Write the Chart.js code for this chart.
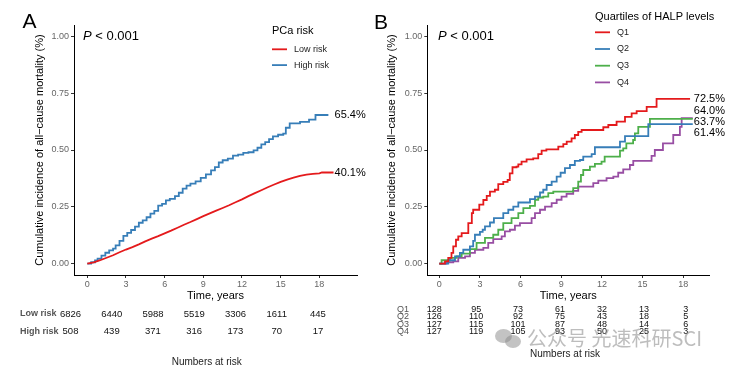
<!DOCTYPE html>
<html>
<head>
<meta charset="utf-8">
<script src="https://cdn.jsdelivr.net/npm/chart.js@4.4.1/dist/chart.umd.min.js"></script>
<style>
  html, body { margin: 0; padding: 0; background: #fff; }
  #wrap { position: relative; width: 748px; height: 369px; overflow: hidden; }
  #cA { position: absolute; left: 0; top: 0; }
  #cB { position: absolute; left: 370px; top: 0; }
  #wm { position: absolute; left: 527px; top: 327px; font: 20px 'Noto Sans CJK SC', sans-serif;
        line-height: 22px; color: rgba(135,135,135,0.55); white-space: nowrap; }
  .bub { position: absolute; background: rgba(135,135,135,0.5); border-radius: 50%; }
</style>
</head>
<body>
<div id="wrap">
  <canvas id="cA" width="370" height="369"></canvas>
  <canvas id="cB" width="378" height="369"></canvas>
  <div class="bub" style="left:495px;top:329px;width:17px;height:14px;"></div>
  <div class="bub" style="left:505px;top:335px;width:16px;height:13px;"></div>
  <div id="wm">公众号 光速科研SCI</div>
</div>
<script>
// ---- data ----
const X_TICKS = [0, 3, 6, 9, 12, 15, 18];
const Y_TICKS = [0, 0.25, 0.5, 0.75, 1];
const RISK_T = [0, 3, 6, 9, 12, 15, 18];

// Panel A: PCa risk
const A_LOW_T = [0, 0.5, 1, 1.5, 2, 2.5, 3, 3.5, 4, 4.5, 5, 5.5, 6, 6.5, 7, 7.5, 8, 8.5, 9, 9.5, 10, 10.5, 11, 11.5, 12, 12.5, 13, 13.5, 14, 14.5, 15, 15.5, 16, 16.5, 17, 17.5, 18, 18.2, 19.1];
const A_LOW_Y = [0, 0.006, 0.015, 0.026, 0.037, 0.05, 0.062, 0.073, 0.085, 0.098, 0.11, 0.121, 0.133, 0.145, 0.158, 0.171, 0.183, 0.196, 0.209, 0.221, 0.233, 0.245, 0.257, 0.27, 0.283, 0.297, 0.31, 0.323, 0.336, 0.348, 0.36, 0.37, 0.378, 0.386, 0.392, 0.395, 0.397, 0.401, 0.401];
const A_HIGH_T = [0, 0.3, 0.6, 0.8, 1.1, 1.4, 1.7, 2.0, 2.2, 2.5, 2.8, 3.1, 3.4, 3.7, 4.0, 4.3, 4.6, 4.9, 5.2, 5.5, 5.8, 6.1, 6.4, 6.8, 7.1, 7.4, 7.7, 8.0, 8.4, 8.8, 9.2, 9.6, 9.9, 10.2, 10.5, 10.9, 11.3, 11.7, 12.1, 12.5, 12.9, 13.2, 13.5, 13.8, 14.1, 14.4, 14.8, 15.2, 15.4, 15.7, 16.5, 17.2, 17.7, 18.7];
const A_HIGH_Y = [0, 0.006, 0.014, 0.022, 0.035, 0.048, 0.058, 0.066, 0.08, 0.1, 0.122, 0.135, 0.148, 0.163, 0.18, 0.19, 0.204, 0.22, 0.232, 0.255, 0.263, 0.278, 0.285, 0.297, 0.312, 0.33, 0.343, 0.352, 0.362, 0.377, 0.393, 0.41, 0.425, 0.445, 0.455, 0.462, 0.475, 0.48, 0.487, 0.49, 0.498, 0.51, 0.525, 0.535, 0.548, 0.56, 0.567, 0.572, 0.598, 0.617, 0.624, 0.634, 0.654, 0.654];
const A_LABELS = ['Low risk', 'High risk'];
const A_END = ['40.1%', '65.4%'];
const A_RISK_LOW = [6826, 6440, 5988, 5519, 3306, 1611, 445];
const A_RISK_HIGH = [508, 439, 371, 316, 173, 70, 17];

// Panel B: quartiles of HALP
const B_Q1_T = [0, 0.42, 0.66, 0.9, 1.03, 1.23, 1.4, 1.65, 2.14, 2.4, 2.5, 2.95, 3.25, 3.5, 3.74, 4.1, 4.35, 4.72, 5.04, 5.2, 5.4, 5.7, 5.83, 6.07, 6.44, 6.93, 7.3, 7.55, 7.9, 8.78, 9.15, 9.4, 9.76, 10.0, 10.25, 10.5, 12.1, 12.47, 13.08, 13.7, 14.19, 14.56, 15.3, 16.03, 18.5];
const B_Q1_Y = [0, 0.01, 0.025, 0.047, 0.076, 0.105, 0.12, 0.134, 0.178, 0.222, 0.237, 0.26, 0.28, 0.298, 0.317, 0.325, 0.35, 0.36, 0.368, 0.397, 0.424, 0.427, 0.437, 0.449, 0.459, 0.463, 0.482, 0.497, 0.503, 0.515, 0.526, 0.537, 0.551, 0.566, 0.58, 0.588, 0.6, 0.61, 0.625, 0.646, 0.661, 0.671, 0.69, 0.725, 0.725];
const B_Q2_T = [0, 0.66, 1.16, 1.52, 1.77, 2.26, 2.5, 2.63, 3.0, 3.2, 3.37, 3.74, 4.03, 4.72, 5.09, 5.46, 5.83, 6.69, 7.06, 7.43, 7.67, 7.92, 8.29, 8.66, 8.95, 9.27, 9.64, 10.0, 10.38, 10.62, 11.24, 11.48, 13.33, 13.7, 15.42, 18.7];
const B_Q2_Y = [0, 0.015, 0.032, 0.047, 0.061, 0.076, 0.1, 0.127, 0.14, 0.149, 0.164, 0.181, 0.2, 0.222, 0.237, 0.251, 0.269, 0.284, 0.295, 0.313, 0.325, 0.346, 0.361, 0.383, 0.4, 0.42, 0.434, 0.452, 0.456, 0.471, 0.482, 0.512, 0.537, 0.561, 0.614, 0.614];
const B_Q3_T = [0, 0.17, 0.79, 1.28, 1.65, 2.26, 2.75, 3.37, 3.98, 4.35, 4.72, 5.33, 5.83, 6.2, 6.69, 7.06, 7.3, 7.67, 8.04, 8.41, 9.88, 10.25, 10.45, 10.62, 11.11, 11.48, 11.97, 12.2, 13.33, 13.57, 13.8, 14.3, 14.43, 14.68, 15.54, 18.7];
const B_Q3_Y = [0, 0.015, 0.025, 0.032, 0.044, 0.064, 0.091, 0.113, 0.127, 0.149, 0.178, 0.2, 0.222, 0.244, 0.254, 0.281, 0.291, 0.295, 0.31, 0.317, 0.332, 0.361, 0.39, 0.412, 0.427, 0.439, 0.449, 0.471, 0.497, 0.507, 0.529, 0.544, 0.573, 0.602, 0.637, 0.637];
const B_Q4_T = [0, 0.54, 1.03, 1.4, 1.9, 2.26, 2.63, 3.25, 3.61, 3.98, 4.6, 4.84, 5.21, 5.58, 5.95, 6.81, 7.06, 7.43, 7.8, 8.29, 8.66, 9.02, 9.39, 9.88, 10.25, 11.36, 11.73, 12.34, 12.84, 13.2, 13.57, 14.06, 14.31, 15.66, 15.9, 16.5, 17.26, 17.75, 17.88, 18.7];
const B_Q4_Y = [0, 0.006, 0.01, 0.025, 0.032, 0.047, 0.061, 0.069, 0.091, 0.108, 0.12, 0.142, 0.149, 0.167, 0.178, 0.2, 0.222, 0.237, 0.251, 0.266, 0.281, 0.295, 0.307, 0.32, 0.339, 0.354, 0.365, 0.376, 0.383, 0.4, 0.415, 0.434, 0.452, 0.474, 0.5, 0.529, 0.566, 0.602, 0.64, 0.64];
const B_LABELS = ['Q1', 'Q2', 'Q3', 'Q4'];
const B_END = ['72.5%', '61.4%', '63.7%', '64.0%'];
const B_RISK = [
  [128, 95, 73, 61, 32, 13, 3],
  [126, 110, 92, 75, 43, 18, 5],
  [127, 115, 101, 87, 48, 14, 6],
  [127, 119, 105, 93, 50, 25, 3]
];

const RED = '#E41A1C', BLUE = '#377EB8', GREEN = '#4DAF4A', PURPLE = '#984EA3';
const FONT = "'Liberation Sans', Arial, Helvetica, sans-serif";
Chart.defaults.font.family = FONT;

// draws letter, p-value, legend, end labels and the numbers-at-risk table
const kmDecor = {
  id: 'kmDecor',
  afterDraw(chart, args, o) {
    const ctx = chart.ctx;
    const xs = chart.scales.x, ys = chart.scales.y, rs = chart.scales.risk;
    const sets = chart.data.datasets;
    ctx.save();
    ctx.textBaseline = 'middle';
    ctx.fillStyle = '#000';

    ctx.font = '21px ' + FONT;
    ctx.textAlign = 'center';
    ctx.fillText(o.letter, o.letterX, o.letterY);

    ctx.textAlign = 'left';
    ctx.font = 'italic 13px ' + FONT;
    ctx.fillText('P', o.pX, o.pY);
    const pw = ctx.measureText('P').width;
    ctx.font = '13px ' + FONT;
    ctx.fillText(' < 0.001', o.pX + pw, o.pY);

    // legend
    ctx.font = '11px ' + FONT;
    ctx.fillText(o.legTitle, o.legX, o.legTitleY);
    ctx.font = '9px ' + FONT;
    sets.forEach((ds, i) => {
      const y = o.legY0 + i * o.legGap;
      ctx.strokeStyle = ds.borderColor;
      ctx.lineWidth = 1.8;
      ctx.beginPath();
      ctx.moveTo(o.legX, y);
      ctx.lineTo(o.legX + 15, y);
      ctx.stroke();
      ctx.fillStyle = '#222';
      ctx.fillText(ds.label, o.legX + 22, y);
    });

    // end-of-curve labels, pushed apart if they collide
    let endX = 0;
    const labs = sets.map((ds, i) => {
      const last = ds.data[ds.data.length - 1];
      endX = Math.max(endX, xs.getPixelForValue(last.x));
      return { text: o.ends[i], y: ys.getPixelForValue(last.y), moved: false };
    }).sort((a, b) => a.y - b.y);
    for (let it = 0; it < 60; it++) {
      for (let i = 1; i < labs.length; i++) {
        const d = labs[i].y - labs[i - 1].y;
        if (d < 10.6) {
          const m = (10.6 - d) / 2;
          labs[i].y += m; labs[i - 1].y -= m;
          labs[i].moved = labs[i - 1].moved = true;
        }
      }
    }
    ctx.fillStyle = '#000';
    ctx.font = '11px ' + FONT;
    labs.forEach(l => ctx.fillText(l.text, endX + 1, l.y + (l.moved ? 1.5 : 0)));

    // numbers at risk
    o.rows.forEach((r, j) => {
      ctx.textAlign = o.rowAlign;
      ctx.font = o.rowFont;
      ctx.fillStyle = '#555';
      ctx.fillText(r.label, o.rowLabelX, o.rowY[j]);
      ctx.textAlign = 'center';
      ctx.font = o.numFont;
      ctx.fillStyle = '#111';
      r.values.forEach((v, k) => ctx.fillText(String(v), rs.getPixelForValue(RISK_T[k]), o.rowY[j]));
    });
    ctx.font = '10px ' + FONT;
    ctx.fillStyle = '#222';
    ctx.textAlign = 'center';
    ctx.fillText('Numbers at risk', o.narX, o.narY);
    ctx.restore();
  }
};

function series(label, t, y, color, stepped) {
  return {
    label: label,
    data: t.map((v, i) => ({ x: v, y: y[i] })),
    borderColor: color,
    borderWidth: 1.8,
    pointRadius: 0,
    fill: false,
    tension: 0,
    stepped: stepped
  };
}

function kmChart(id, p) {
  return new Chart(document.getElementById(id), {
    type: 'line',
    data: { datasets: p.datasets },
    options: {
      responsive: false,
      animation: false,
      layout: { padding: { left: 0, right: p.padRight, top: 25, bottom: 66 } },
      plugins: { legend: { display: false }, tooltip: { enabled: false }, kmDecor: p.decor },
      scales: {
        x: {
          type: 'linear', min: p.xMin, max: p.xMax,
          afterBuildTicks: s => { s.ticks = X_TICKS.map(v => ({ value: v })); },
          afterFit: s => { s.height = 28; },
          grid: { display: true, drawOnChartArea: false, drawTicks: true, tickLength: 3, color: '#333' },
          border: { color: '#000', width: 1 },
          ticks: { font: { size: 9 }, color: '#666', padding: 1, maxRotation: 0, autoSkip: false, callback: v => String(v) },
          title: { display: true, text: 'Time, years', font: { size: 11 }, color: '#000', padding: 0 }
        },
        y: {
          type: 'linear', min: -0.05, max: 1.05,
          afterBuildTicks: s => { s.ticks = Y_TICKS.map(v => ({ value: v })); },
          afterFit: s => { s.width = p.yWidth; },
          grid: { display: true, drawOnChartArea: false, drawTicks: true, tickLength: 3, color: '#333' },
          border: { color: '#000', width: 1 },
          ticks: { font: { size: 9 }, color: '#666', padding: 2, callback: v => Number(v).toFixed(2) },
          title: { display: true, text: 'Cumulative incidence of all\u2212cause mortality (%)', font: { size: 11 }, color: '#000', padding: { top: p.yTitlePad, bottom: 0 } }
        },
        risk: { type: 'linear', axis: 'x', display: false, min: p.riskMin, max: p.riskMax }
      }
    },
    plugins: [kmDecor]
  });
}

kmChart('cA', {
  datasets: [
    series(A_LABELS[0], A_LOW_T, A_LOW_Y, RED, false),
    series(A_LABELS[1], A_HIGH_T, A_HIGH_Y, BLUE, true)
  ],
  xMin: -1.03, xMax: 20.92, yWidth: 74, padRight: 13, yTitlePad: 33.4,
  riskMin: 0.255, riskMax: 20.84,
  decor: {
    letter: 'A', letterX: 29.5, letterY: 22.5, pX: 83, pY: 36,
    legTitle: 'PCa risk', legX: 272, legTitleY: 31, legY0: 49.3, legGap: 15.8,
    ends: A_END,
    rows: [{ label: 'Low risk', values: A_RISK_LOW }, { label: 'High risk', values: A_RISK_HIGH }],
    rowY: [314, 331.7], rowLabelX: 20, rowAlign: 'left',
    rowFont: 'bold 9px ' + FONT, numFont: '9.5px ' + FONT,
    narX: 206.7, narY: 362.7
  }
});

kmChart('cB', {
  datasets: [
    series(B_LABELS[0], B_Q1_T, B_Q1_Y, RED, true),
    series(B_LABELS[1], B_Q2_T, B_Q2_Y, BLUE, true),
    series(B_LABELS[2], B_Q3_T, B_Q3_Y, GREEN, true),
    series(B_LABELS[3], B_Q4_T, B_Q4_Y, PURPLE, true)
  ],
  xMin: -0.885, xMax: 19.92, yWidth: 57.3, padRight: 38.7, yTitlePad: 15.4,
  riskMin: -0.494, riskMax: 19.68,
  decor: {
    letter: 'B', letterX: 11, letterY: 23, pX: 68, pY: 36,
    legTitle: 'Quartiles of HALP levels', legX: 225, legTitleY: 17.3, legY0: 32.3, legGap: 16.7,
    ends: B_END,
    rows: B_LABELS.map((q, i) => ({ label: q, values: B_RISK[i] })),
    rowY: [309.3, 316.7, 324.3, 331.7], rowLabelX: 33, rowAlign: 'center',
    rowFont: '9px ' + FONT, numFont: '9px ' + FONT,
    narX: 195, narY: 354
  }
});
</script>
</body>
</html>
